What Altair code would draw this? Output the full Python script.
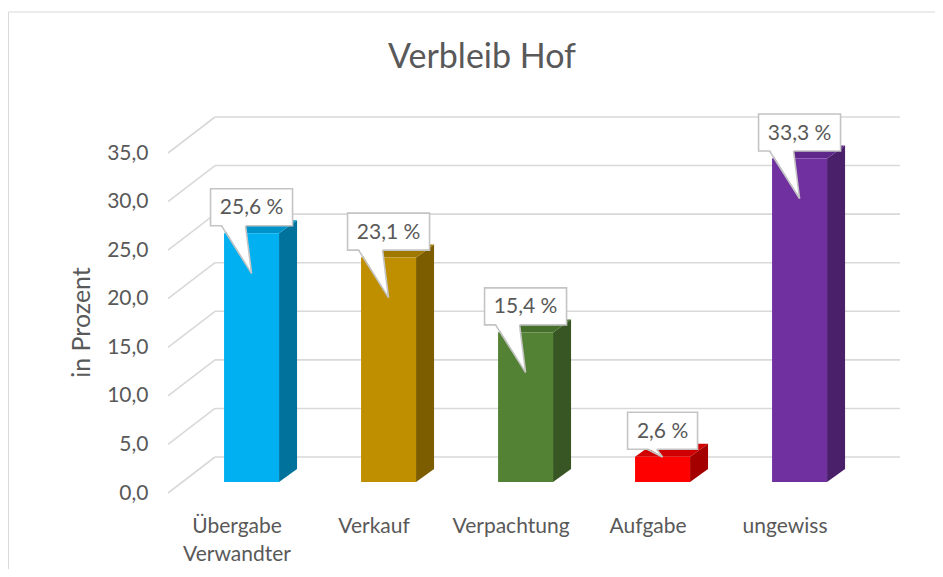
import altair as alt
import pandas as pd

# ---- data ----
categories = ["Übergabe\nVerwandter", "Verkauf", "Verpachtung", "Aufgabe", "ungewiss"]
values = [25.6, 23.1, 15.4, 2.6, 33.3]
front_colors = ["#00B0F0", "#BF8F00", "#548235", "#FF0000", "#7030A0"]
top_colors = ["#0093C9", "#A07800", "#45702B", "#D00000", "#5D2889"]
side_colors = ["#00729C", "#7C5D00", "#375623", "#A50000", "#4A206B"]
y_ticks = [0, 5, 10, 15, 20, 25, 30, 35]
title_text = "Verbleib Hof"
y_title = "in Prozent"

# ---- geometry (projection of a simple 3D box) ----
W, H = 732, 376
X_MIN, X_MAX = -0.504, 4.839
Y_MAX = 38.706
PX_X = W / (X_MAX - X_MIN)
PX_Y = H / Y_MAX


def dx(p):
    return p / PX_X


def dy(p):
    return p / PX_Y


DEPTH_X, DEPTH_Y = dx(47), dy(36)
TEXT = "#595959"
FONT = "Lato"

xscale = alt.Scale(domain=[X_MIN, X_MAX], nice=False, zero=False)
yscale = alt.Scale(domain=[0, Y_MAX], nice=False, zero=False)
yaxis = alt.Axis(
    values=y_ticks,
    labelExpr="replace(format(datum.value, '.1f'), '.', ',')",
    ticks=False, domain=False, grid=False,
    labelPadding=20, labelFontSize=21, labelColor=TEXT, labelFont=FONT,
    title=y_title, titleFontSize=25, titleFontWeight="normal",
    titleColor=TEXT, titleFont=FONT, titlePadding=12, titleY=205,
)


def X(f):
    return alt.X(f, type="quantitative", scale=xscale, axis=None)


def Y(f):
    return alt.Y(f, type="quantitative", scale=yscale, axis=yaxis)


# gridlines
grid = pd.DataFrame({"v": y_ticks})
grid["xb"] = X_MIN + DEPTH_X
grid["xe"] = X_MAX
grid["yb"] = grid["v"] + DEPTH_Y
grid["xs"] = X_MIN

grid_back = alt.Chart(grid).mark_rule(color="#d9d9d9", strokeWidth=1.6).encode(
    x=X("xb"), x2=alt.X2("xe"), y=Y("yb")
)
grid_side = alt.Chart(grid).mark_rule(color="#d9d9d9", strokeWidth=1.6).encode(
    x=X("xs"), x2=alt.X2("xb"), y=Y("v"), y2=alt.Y2("yb")
)

# bars
BASE = dy(11)
F_L, F_R = dx(-13), dx(42)
SD_X, SD_Y = dx(18), dy(13)

front_rows, side_rows, top_rows = [], [], []
box_rows, tri_rows, edge_rows, lab_rows = [], [], [], []
for i, (c, v) in enumerate(zip(categories, values)):
    top = v + BASE
    front_rows.append({"cat": c, "x": i + F_L, "x2": i + F_R, "y": BASE, "y2": top,
                       "fill": front_colors[i]})
    side_rows += [
        {"cat": c, "x": i + F_R, "y": top, "y2": BASE, "fill": side_colors[i]},
        {"cat": c, "x": i + F_R + SD_X, "y": top + SD_Y, "y2": BASE + SD_Y, "fill": side_colors[i]},
    ]
    top_rows += [
        {"cat": c, "y": top, "x": i + F_L, "x2": i + F_R, "fill": top_colors[i]},
        {"cat": c, "y": top + SD_Y, "x": i + F_L + SD_X, "x2": i + F_R + SD_X, "fill": top_colors[i]},
    ]
    # callout
    label = f"{v:.1f} %".replace(".", ",")
    cx = i + (F_L + F_R) / 2
    half_w = 41 if len(label) > 5 else 35
    bb = top + dy(7.5)
    bt = top + dy(44.5)
    tip_below = max(0.0, min(40.0, v * PX_Y - 25))
    tip = top - dy(tip_below)
    dist = 7.5 + tip_below
    br = cx - dx(6)
    bl = cx - dx(6 + min(24.0, 1.2 * dist))
    box_rows.append({"cat": c, "x": cx - dx(half_w), "x2": cx + dx(half_w), "y": bb, "y2": bt})
    lab_rows.append({"cat": c, "x": cx, "y": (bb + bt) / 2, "label": label})
    raise_ = dy(1.5)
    t_at_br = (bb + raise_) + (tip - (bb + raise_)) * (br - bl) / (cx - bl)
    tri_rows += [
        {"cat": c, "x": bl, "y": bb + raise_, "y2": bb + raise_},
        {"cat": c, "x": br, "y": bb + raise_, "y2": t_at_br},
        {"cat": c, "x": cx, "y": tip, "y2": tip},
    ]
    edge_rows += [
        {"cat": c, "x": bl, "y": bb, "x2": cx, "y2": tip},
        {"cat": c, "x": br, "y": bb, "x2": cx, "y2": tip},
    ]

front = alt.Chart(pd.DataFrame(front_rows)).mark_rect().encode(
    x=X("x"), x2=alt.X2("x2"), y=Y("y"), y2=alt.Y2("y2"),
    color=alt.Color("fill:N", scale=None),
)
side = alt.Chart(pd.DataFrame(side_rows)).mark_area().encode(
    x=X("x"), y=Y("y"), y2=alt.Y2("y2"), detail="cat:N",
    color=alt.Color("fill:N", scale=None),
)
topf = alt.Chart(pd.DataFrame(top_rows)).mark_area(orient="horizontal").encode(
    y=Y("y"), x=X("x"), x2=alt.X2("x2"), detail="cat:N",
    color=alt.Color("fill:N", scale=None),
)

boxes = alt.Chart(pd.DataFrame(box_rows)).mark_rect(
    fill="white", stroke="#c4c4c4", strokeWidth=1.6
).encode(x=X("x"), x2=alt.X2("x2"), y=Y("y"), y2=alt.Y2("y2"))
tris = alt.Chart(pd.DataFrame(tri_rows)).mark_area(color="white").encode(
    x=X("x"), y=Y("y"), y2=alt.Y2("y2"), detail="cat:N"
)
edges = alt.Chart(pd.DataFrame(edge_rows)).mark_rule(color="#c4c4c4", strokeWidth=1.6).encode(
    x=X("x"), x2=alt.X2("x2"), y=Y("y"), y2=alt.Y2("y2")
)
labels = alt.Chart(pd.DataFrame(lab_rows)).mark_text(
    font=FONT, fontSize=21, color=TEXT, baseline="middle", align="center", dy=1
).encode(x=X("x"), y=Y("y"), text="label:N")

# category labels
cat_df = pd.DataFrame({"cat": categories, "x": list(range(len(categories)))})
cat_df["y"] = -dy(40)
cat_labels = alt.Chart(cat_df).mark_text(
    font=FONT, fontSize=21, color=TEXT, baseline="alphabetic", align="center",
    lineBreak="\n", lineHeight=28,
).encode(x=X("x"), y=Y("y"), text="cat:N")

# title and frame
one = alt.Data(values=[{}])
title = alt.Chart(one).mark_text(
    text=title_text, font=FONT, fontSize=34, color=TEXT, baseline="alphabetic", align="center"
).encode(x=alt.value(314), y=alt.value(-49))
frame_top = alt.Chart(one).mark_rule(color="#d9d9d9", strokeWidth=1).encode(
    x=alt.value(-159.5), x2=alt.value(W + 40), y=alt.value(-105)
)
frame_left = alt.Chart(one).mark_rule(color="#d9d9d9", strokeWidth=1).encode(
    x=alt.value(-159.5), y=alt.value(-105), y2=alt.value(H + 80)
)

chart = alt.layer(
    frame_top, frame_left, grid_back, grid_side,
    side, topf, front,
    boxes, tris, edges, labels, cat_labels, title,
).properties(
    width=W, height=H,
    autosize=alt.AutoSizeParams(type="none"),
    padding={"left": 160, "top": 109, "right": 35, "bottom": 76},
).configure(font=FONT).configure_view(stroke=None)

chart.save("out.html", embed_options={"renderer": "svg", "actions": False})
